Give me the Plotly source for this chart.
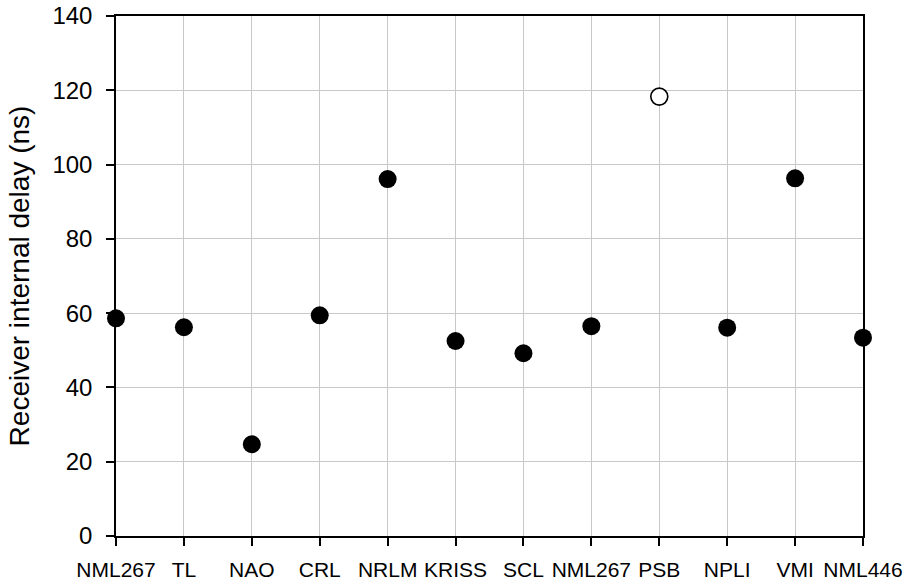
import plotly.graph_objects as go

labels = ["NML267", "TL", "NAO", "CRL", "NRLM", "KRISS", "SCL", "NML267", "PSB", "NPLI", "VMI", "NML446"]
delays = [58.6, 56.2, 24.7, 59.4, 96.1, 52.5, 49.2, 56.5, 118.3, 56.1, 96.3, 53.4]
open_flags = [False, False, False, False, False, False, False, False, True, False, False, False]

xs = list(range(len(labels)))
fx = [x for x, o in zip(xs, open_flags) if not o]
fy = [y for y, o in zip(delays, open_flags) if not o]
ox = [x for x, o in zip(xs, open_flags) if o]
oy = [y for y, o in zip(delays, open_flags) if o]

fig = go.Figure()
fig.add_trace(go.Scatter(x=fx, y=fy, mode="markers", cliponaxis=False,
                         marker=dict(size=18, color="black", line=dict(width=0)),
                         showlegend=False))
fig.add_trace(go.Scatter(x=ox, y=oy, mode="markers", cliponaxis=False,
                         marker=dict(size=17, color="white", line=dict(width=1.6, color="black")),
                         showlegend=False))

fig.update_layout(
    width=904, height=586,
    margin=dict(l=116, r=41, t=16, b=50),
    paper_bgcolor="white", plot_bgcolor="white",
    font=dict(family="Liberation Sans, Arial, sans-serif", color="black"),
)
fig.update_xaxes(
    range=[0, len(labels) - 1], tickmode="array", tickvals=xs, ticktext=labels,
    tickangle=0, automargin=False, ticklabelstandoff=6,
    showgrid=True, gridcolor="#c8c8c8", gridwidth=1.3,
    showline=True, linecolor="black", linewidth=1.5, mirror=True,
    ticks="outside", ticklen=8, tickwidth=1.5, tickcolor="black",
    tickfont=dict(family="Liberation Sans, Arial, sans-serif", size=21),
    zeroline=False,
)
fig.update_yaxes(
    range=[0, 140], dtick=20, tick0=0, automargin=False, ticklabelstandoff=9,
    showgrid=True, gridcolor="#c8c8c8", gridwidth=1.3,
    showline=True, linecolor="black", linewidth=1.5, mirror=True,
    ticks="outside", ticklen=8, tickwidth=1.5, tickcolor="black",
    tickfont=dict(size=24),
    title=dict(text="Receiver internal delay (ns)", font=dict(size=28)),
    zeroline=False,
)

fig.write_html("out.html", config={"displayModeBar": False},
               post_script="document.body.style.margin='0';")
